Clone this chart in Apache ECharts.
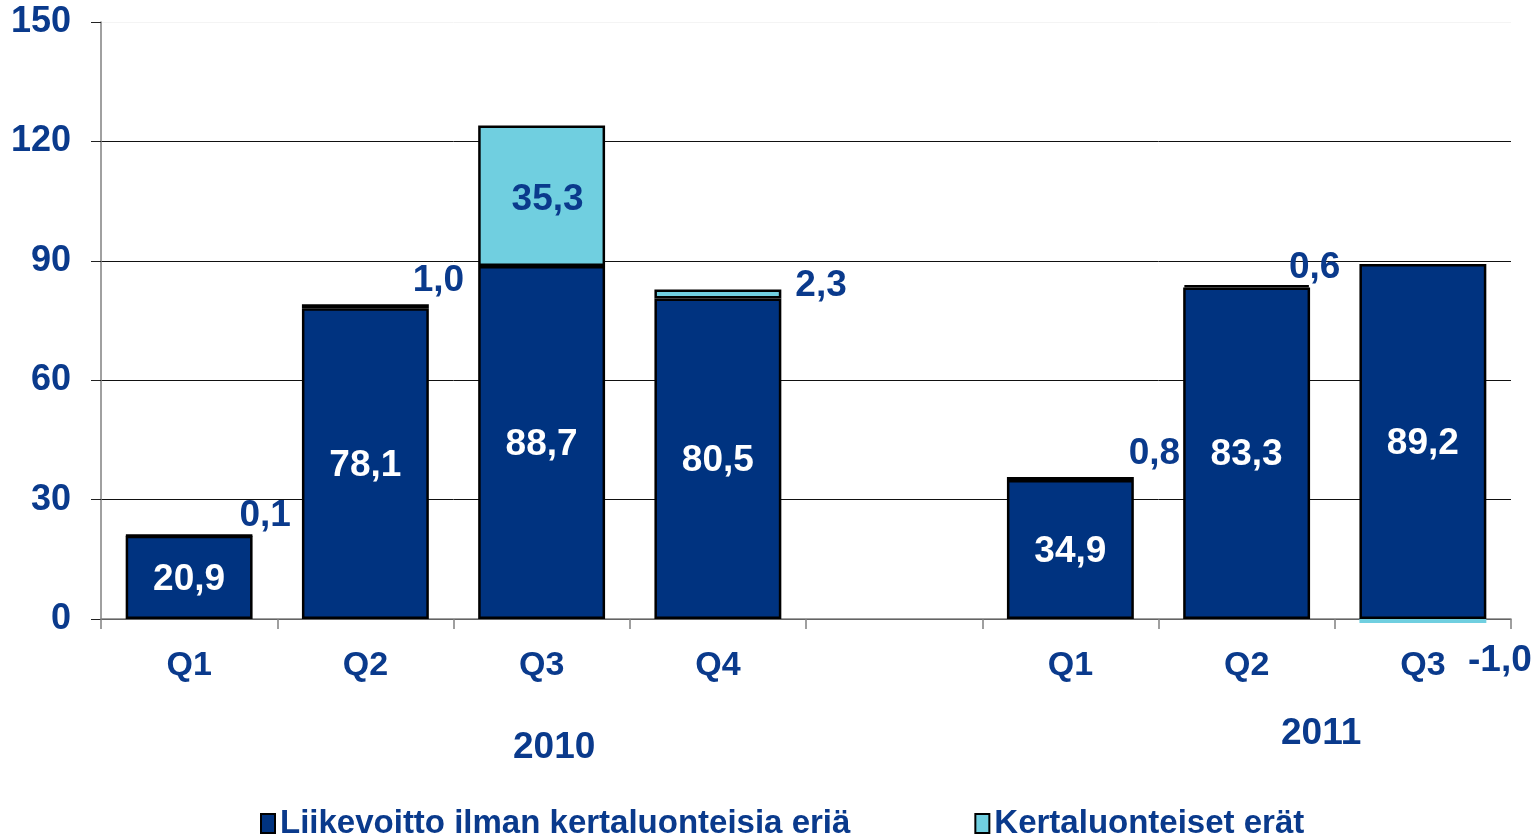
<!DOCTYPE html>
<html>
<head>
<meta charset="utf-8">
<title>Liikevoitto</title>
<script src="https://cdn.jsdelivr.net/npm/echarts@6/dist/echarts.min.js"></script>
<style>
  html, body { margin: 0; padding: 0; background: #fff; }
  #main { width: 1540px; height: 837px; }
</style>
</head>
<body>
<div id="main"></div>
<script type="text/javascript">
// kvartaalit (tyhjä väli vuosien välissä)
var quarters = ['Q1', 'Q2', 'Q3', 'Q4', '', 'Q1', 'Q2', 'Q3'];
var years = ['2010', '2011'];
var seriesNames = ['Liikevoitto ilman kertaluonteisia eriä', 'Kertaluonteiset erät'];
var liikevoitto = [20.9, 78.1, 88.7, 80.5, null, 34.9, 83.3, 89.2];
var kertaluonteiset = [0.1, 1.0, 35.3, 2.3, null, 0.8, 0.6, -1.0];
var yTicks = [0, 30, 60, 90, 120, 150];

var dark = '#003380';
var light = '#70CFE0';
var textBlue = '#0A3A8C';
var font = 'Liberation Sans, Arial, sans-serif';

function fmt(v) {
    return v.toFixed(1).replace('.', ',');
}

// label placement for the small values, roughly like the original
var lightLabelPos = [
    {position: 'top', offset: [76, 5]},
    {position: 'top', offset: [73, 0]},
    {position: 'inside', offset: [6, 4]},
    {position: 'right', offset: [0, -8], distance: 14},
    null,
    {position: 'top', offset: [84, 0]},
    {position: 'top', offset: [68, 6]},
    {position: 'bottom', offset: [77, 14]}
];

var lightData = kertaluonteiset.map(function (v, i) {
    if (v === null) return null;
    var item = {value: v};
    var p = lightLabelPos[i];
    item.label = {position: p.position, offset: p.offset};
    if (p.distance) item.label.distance = p.distance;
    if (v < 0) item.itemStyle = {borderWidth: 0};
    return item;
});

var myChart = echarts.init(document.getElementById('main'));
var option = {
    animation: false,
    grid: {left: 101, right: 29, top: 22, bottom: 218},
    legend: {
        bottom: -8,
        left: 255,
        itemGap: 124,
        itemWidth: 14,
        itemHeight: 19,
        icon: 'rect',
        data: seriesNames,
        textStyle: {color: textBlue, fontSize: 33, fontWeight: 'bold', fontFamily: font, padding: [0, 0, 0, 0]}
    },
    xAxis: {
        type: 'category',
        data: quarters,
        axisLine: {lineStyle: {color: '#808080', width: 1.5}},
        axisTick: {show: true, length: 10, lineStyle: {color: '#808080', width: 1.5}},
        axisLabel: {
            color: textBlue, fontSize: 34, fontWeight: 'bold', fontFamily: font,
            margin: 30, interval: 0
        },
        splitLine: {show: false}
    },
    yAxis: {
        type: 'value',
        min: yTicks[0],
        max: yTicks[yTicks.length - 1],
        interval: 30,
        axisLine: {show: true, lineStyle: {color: '#808080', width: 1.5}},
        axisTick: {show: true, length: 10, lineStyle: {color: '#222'}},
        axisLabel: {color: textBlue, fontSize: 36, fontWeight: 'bold', fontFamily: font, margin: 30},
        splitLine: {
            show: true,
            lineStyle: {color: ['#111', '#111', '#111', '#111', '#111', '#f4f4f4'], width: 1}
        }
    },
    graphic: [
        {type: 'text', left: 513, top: 729, style: {text: years[0], fill: textBlue, font: 'bold 37px ' + font}},
        {type: 'text', left: 1281, top: 715, style: {text: years[1], fill: textBlue, font: 'bold 37px ' + font}}
    ],
    series: [{
        name: seriesNames[0],
        type: 'bar',
        stack: 'a',
        barWidth: '72%',
        data: liikevoitto,
        itemStyle: {color: dark, borderColor: '#000', borderWidth: 2.5},
        label: {
            show: true,
            position: 'inside',
            color: '#fff',
            fontSize: 37,
            fontWeight: 'bold',
            fontFamily: font,
            offset: [0, 2],
            formatter: function (p) { return fmt(p.value); }
        }
    }, {
        name: seriesNames[1],
        type: 'bar',
        stack: 'a',
        barWidth: '72%',
        z: 3,
        clip: false,
        data: lightData,
        itemStyle: {color: light, borderColor: '#000', borderWidth: 2.5},
        label: {
            show: true,
            color: textBlue,
            fontSize: 37,
            fontWeight: 'bold',
            fontFamily: font,
            formatter: function (p) { return fmt(p.value); }
        }
    }]
};
myChart.setOption(option);
</script>
</body>
</html>
